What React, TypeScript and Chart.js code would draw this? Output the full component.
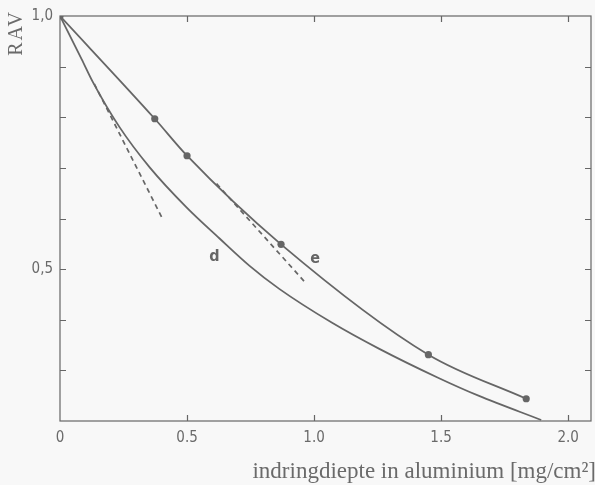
import { useEffect, useRef } from "react";
import { Chart, registerables } from "chart.js";

Chart.register(...registerables);

// Curve e: measured points (drawn with dots)
const depthE = [0, 0.373, 0.5, 0.87, 1.45, 1.835];
const ravE = [1.0, 0.797, 0.724, 0.549, 0.331, 0.244];

// Curve d: smooth curve without markers
const depthD = [0, 0.085, 0.13, 0.235, 0.353, 0.498, 0.627, 0.745, 0.863, 1.071, 1.255, 1.49, 1.647, 1.894];
const ravD = [1.0, 0.915, 0.869, 0.78, 0.701, 0.622, 0.561, 0.507, 0.461, 0.394, 0.343, 0.285, 0.25, 0.202];

// Dashed tangents (initial slope of d, local slope of e)
const tangentDX = [0.135, 0.402];
const tangentDY = [0.866, 0.601];
const tangentEX = [0.616, 0.961];
const tangentEY = [0.669, 0.476];

// Curve labels
const curveNames = ["d", "e"];
const curveNameX = [0.608, 1.004];
const curveNameY = [0.524, 0.52];

// Axes
const xTickValues = [0, 0.5, 1.0, 1.5, 2.0];
const xTickLabels = ["0", "0.5", "1.0", "1.5", "2.0"];
const yTickValues = [0.5, 1.0];
const yTickLabels = ["0,5", "1,0"];
const yMinorTicks = [0.3, 0.4, 0.5, 0.6, 0.7, 0.8, 0.9];
const xMin = 0;
const xMax = 2.09;
const yMin = 0.2;
const yMax = 1.0;

const xTitle = "indringdiepte in aluminium [mg/cm\u00B2]";
const yTitle = "RAV";

const BG = "#f8f8f8";
const INK = "#666666";
const TEXT = "#6a6a6a";
const TICK_FONT = "'DejaVu Sans Condensed', 'DejaVu Sans', sans-serif";
const SERIF = "'Liberation Serif', 'DejaVu Serif', serif";

const toPoints = (xs: number[], ys: number[]) => xs.map((x, i) => ({ x, y: ys[i] }));

const decorPlugin = {
  id: "decor",
  beforeDraw(chart: any) {
    const { ctx, width, height } = chart;
    ctx.save();
    ctx.fillStyle = BG;
    ctx.fillRect(0, 0, width, height);
    ctx.restore();
  },
  afterDatasetsDraw(chart: any) {
    const { ctx, chartArea: a, scales } = chart;
    const sx = scales.x;
    const sy = scales.y;
    ctx.save();
    ctx.strokeStyle = INK;
    ctx.lineWidth = 1.2;
    ctx.strokeRect(a.left, a.top, a.right - a.left, a.bottom - a.top);

    // inward tick marks on all four sides
    const len = 6;
    ctx.beginPath();
    for (const v of yMinorTicks) {
      const py = Math.round(sy.getPixelForValue(v)) + 0.5;
      ctx.moveTo(a.left, py);
      ctx.lineTo(a.left + len, py);
      ctx.moveTo(a.right, py);
      ctx.lineTo(a.right - len, py);
    }
    for (const v of xTickValues) {
      if (v === 0) continue;
      const px = Math.round(sx.getPixelForValue(v)) + 0.5;
      ctx.moveTo(px, a.bottom);
      ctx.lineTo(px, a.bottom - len);
      ctx.moveTo(px, a.top);
      ctx.lineTo(px, a.top + len);
    }
    ctx.stroke();

    // curve names
    ctx.fillStyle = INK;
    ctx.font = "bold 16px " + TICK_FONT;
    ctx.textAlign = "center";
    ctx.textBaseline = "middle";
    curveNames.forEach((n, i) => {
      ctx.fillText(n, sx.getPixelForValue(curveNameX[i]), sy.getPixelForValue(curveNameY[i]));
    });

    // axis titles
    ctx.fillStyle = TEXT;
    ctx.font = "23px " + SERIF;
    ctx.textAlign = "right";
    ctx.textBaseline = "middle";
    ctx.fillText(xTitle, chart.width + 1, 472);

    ctx.save();
    ctx.translate(17, 34);
    ctx.rotate(-Math.PI / 2);
    ctx.textAlign = "center";
    ctx.textBaseline = "middle";
    ctx.font = "20px " + SERIF;
    (ctx as any).letterSpacing = "2px";
    ctx.fillText(yTitle, 1, 0);
    ctx.restore();

    ctx.restore();
  },
};

export default function App() {
  const canvasRef = useRef<HTMLCanvasElement | null>(null);

  useEffect(() => {
    document.body.style.margin = "0";
    document.body.style.background = BG;
    const canvas = canvasRef.current;
    if (!canvas) return;

    const chart = new Chart(canvas, {
      type: "line",
      data: {
        datasets: [
          {
            label: "e",
            data: toPoints(depthE, ravE),
            borderColor: INK,
            backgroundColor: INK,
            borderWidth: 1.8,
            pointRadius: 3.6,
            pointBorderWidth: 0,
            pointBackgroundColor: INK,
            cubicInterpolationMode: "monotone",
          },
          {
            label: "d",
            data: toPoints(depthD, ravD),
            borderColor: INK,
            borderWidth: 1.8,
            pointRadius: 0,
            cubicInterpolationMode: "monotone",
          },
          {
            label: "raaklijn d",
            data: toPoints(tangentDX, tangentDY),
            borderColor: INK,
            borderWidth: 1.7,
            borderDash: [5, 4],
            pointRadius: 0,
          },
          {
            label: "raaklijn e",
            data: toPoints(tangentEX, tangentEY),
            borderColor: INK,
            borderWidth: 1.7,
            borderDash: [5, 4],
            pointRadius: 0,
          },
        ],
      },
      options: {
        animation: false,
        responsive: false,
        devicePixelRatio: 1,
        layout: { padding: { left: 0, top: 15, right: 1, bottom: 0 } },
        plugins: {
          legend: { display: false },
          tooltip: { enabled: false },
        },
        scales: {
          x: {
            type: "linear",
            min: xMin,
            max: xMax,
            grid: { display: false, drawTicks: false, tickLength: 0 },
            border: { display: false },
            afterBuildTicks: (s: any) => {
              s.ticks = xTickValues.map((v) => ({ value: v }));
            },
            afterFit: (s: any) => {
              s.height = 64;
            },
            ticks: {
              color: TEXT,
              padding: 8,
              maxRotation: 0,
              font: { family: TICK_FONT, size: 15, weight: "500" },
              callback: (v: any) => {
                const i = xTickValues.indexOf(Number(v));
                return i >= 0 ? xTickLabels[i] : "";
              },
            },
          },
          y: {
            type: "linear",
            min: yMin,
            max: yMax,
            grid: { display: false, drawTicks: false, tickLength: 0 },
            border: { display: false },
            afterBuildTicks: (s: any) => {
              s.ticks = yTickValues.map((v) => ({ value: v }));
            },
            afterFit: (s: any) => {
              s.width = 60;
            },
            ticks: {
              color: TEXT,
              padding: 7,
              font: { family: TICK_FONT, size: 15, weight: "500" },
              callback: (v: any) => {
                const i = yTickValues.indexOf(Number(v));
                return i >= 0 ? yTickLabels[i] : "";
              },
            },
          },
        },
      } as any,
      plugins: [decorPlugin],
    });

    return () => chart.destroy();
  }, []);

  return (
    <div style={{ width: 595, height: 485 }}>
      <canvas ref={canvasRef} width={595} height={485} style={{ display: "block" }} />
    </div>
  );
}
